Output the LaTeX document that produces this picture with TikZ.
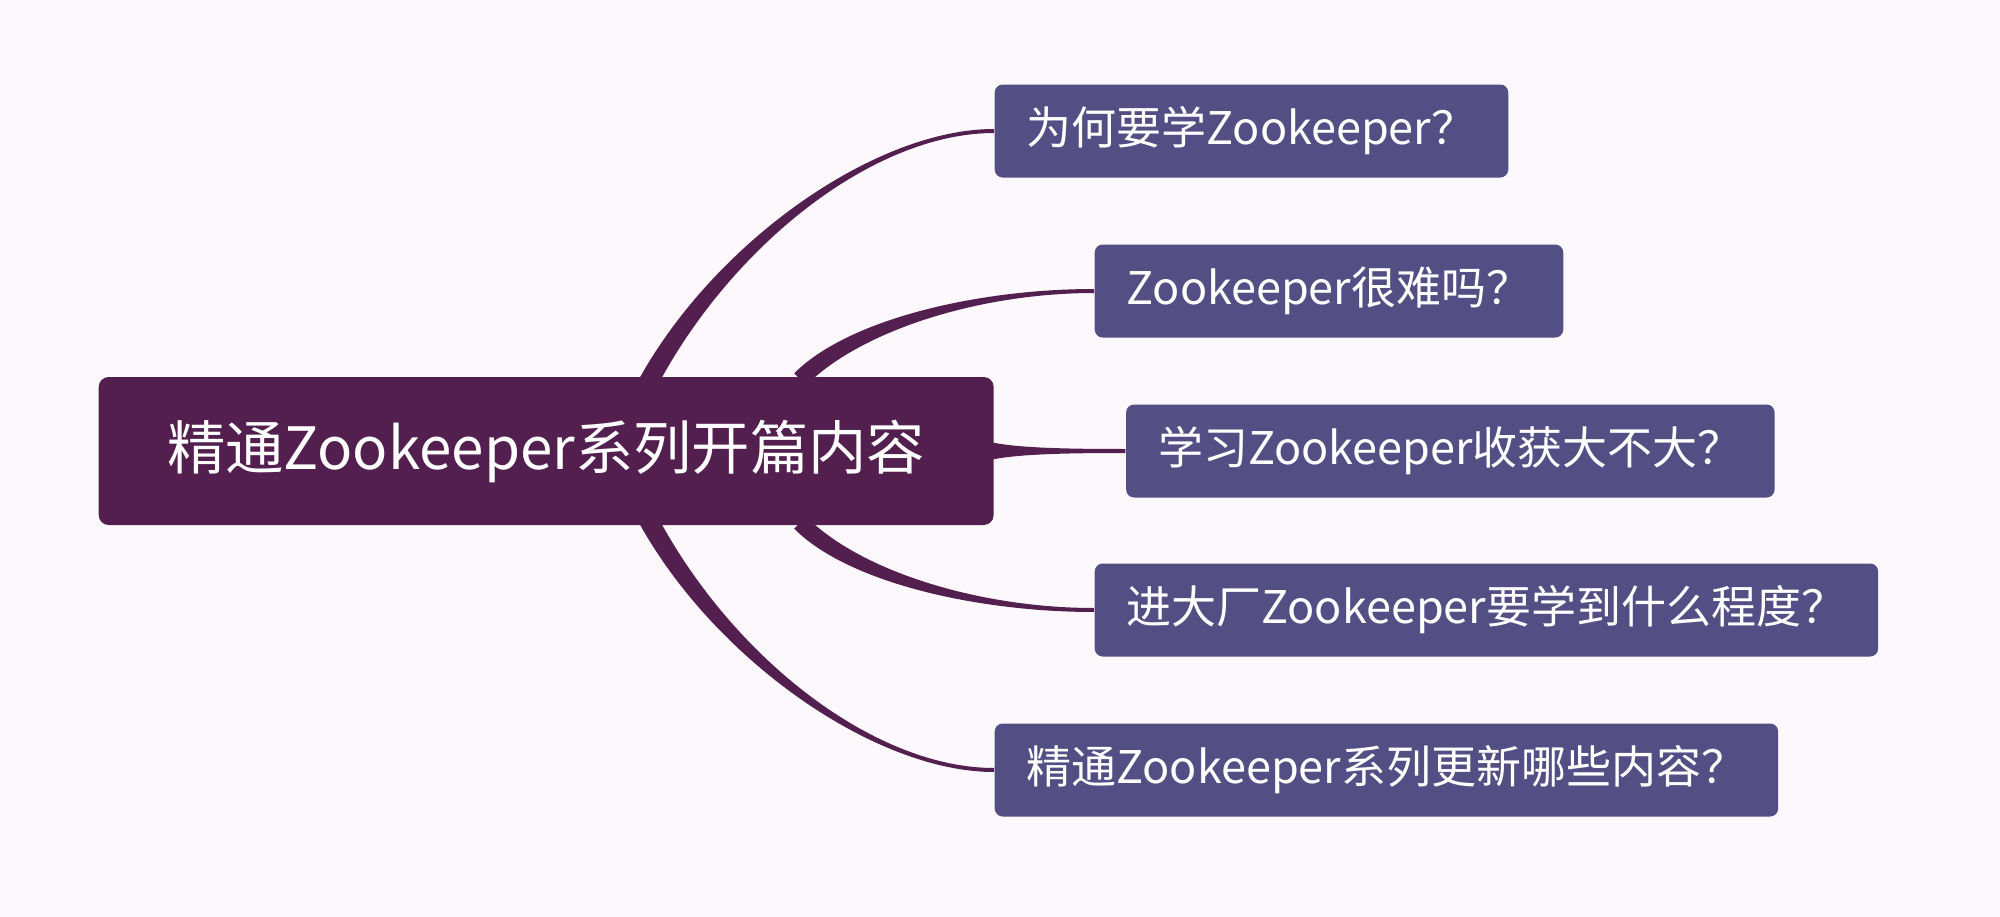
\documentclass[tikz,border=0pt]{standalone}
\usepackage{fontspec}
\setmainfont{Noto Sans CJK SC}
\usetikzlibrary{calc,positioning}
\definecolor{hubcol}{HTML}{521F4F}
\definecolor{leafcol}{HTML}{534F84}
\definecolor{paper}{HTML}{FCF8FC}
\pgfdeclarelayer{back}
\pgfdeclarelayer{links}
\pgfsetlayers{back,links,main}
% tapered branch: root, root control, tip control, tip, root half width, tip half width
\newcommand{\twig}[6]{%
  \fill[twig] ($#1+#5$) .. controls +#2 and +#3 .. ($#4+#6$)
    -- ($#4-#6$) .. controls +#3 and +#2 .. ($#1-#5$) -- cycle;}
\begin{document}
\begin{tikzpicture}[x=0.1mm, y=-0.1mm,
    hub/.style={fill=hubcol, text=white, rounded corners=1mm, minimum width=89.5mm,
        minimum height=14.8mm, font=\fontsize{16.6}{20}\selectfont},
    leaf/.style={fill=leafcol, text=white, rounded corners=0.8mm, inner xsep=3.2mm,
        minimum height=9.3mm, font=\fontsize{12.8}{16}\selectfont},
    twig/.style={fill=hubcol}]
    \useasboundingbox (0,0) rectangle (2000,917);
    \begin{pgfonlayer}{back}
        \fill[paper] (0,0) rectangle (2000,917);
    \end{pgfonlayer}

    \node[hub, anchor=west] (hub) at (98,451) {精通Zookeeper系列开篇内容};
    \node[leaf, anchor=west] (q1) at (994,131) {为何要学Zookeeper？};
    \node[leaf, anchor=west] (q2) at (1094,291) {Zookeeper很难吗？};
    \node[leaf, right=13.1mm of hub] (q3) {学习Zookeeper收获大不大？};
    \node[leaf, anchor=west] (q4) at (1094,610) {进大厂Zookeeper要学到什么程度？};
    \node[leaf, anchor=west] (q5) at (994,770) {精通Zookeeper系列更新哪些内容？};

    \begin{pgfonlayer}{links}
        \twig{(hub.north)+(101,8)}{(75,-140)}{(-120,0)}{(q1.west)}{(-11,0)}{(0,-2)}
        \twig{(hub.north)+(254,3)}{(55,-55)}{(-114,0)}{(q2.west)}{(-6,-6)}{(0,-2)}
        \fill[twig] ($(hub.east)+(-8,-10)$) .. controls +(25,7) and +(-60,0) .. ($(q3.west)+(0,-2)$)
            -- ($(q3.west)+(0,2)$) .. controls +(-60,0) and +(25,-7) .. ($(hub.east)+(-8,10)$) -- cycle;
        \twig{(hub.south)+(254,-3)}{(55,55)}{(-114,0)}{(q4.west)}{(-6,6)}{(0,2)}
        \twig{(hub.south)+(101,-8)}{(75,140)}{(-120,0)}{(q5.west)}{(-11,0)}{(0,2)}
    \end{pgfonlayer}
\end{tikzpicture}
\end{document}
